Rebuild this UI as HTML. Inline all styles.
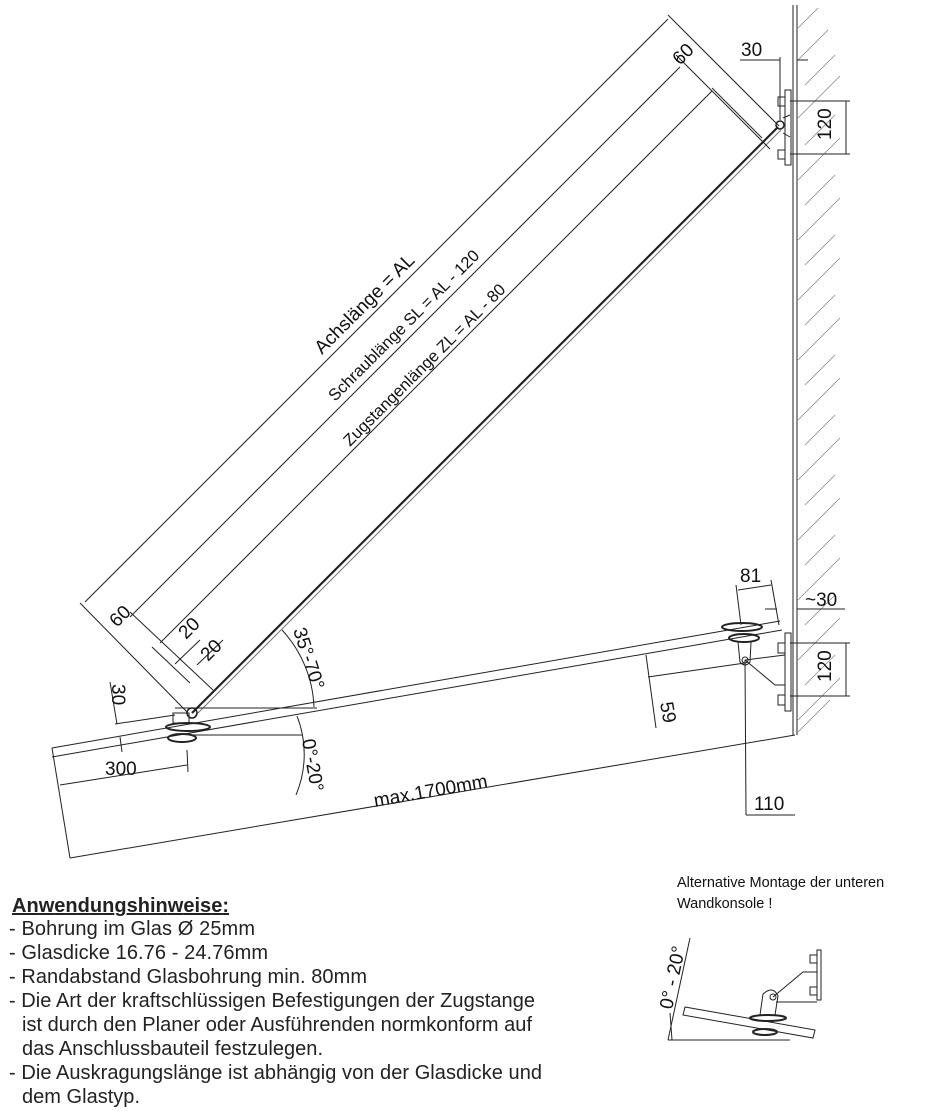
<!DOCTYPE html>
<html><head><meta charset="utf-8"><style>
html,body{margin:0;padding:0;background:#fff;}
svg{display:block;font-family:"Liberation Sans",sans-serif;}
</style></head><body>
<svg width="945" height="1111" viewBox="0 0 945 1111" xmlns="http://www.w3.org/2000/svg">
<g stroke="#222" stroke-width="1" fill="none">
<line x1="793" y1="5" x2="793" y2="735"/>
<line x1="797" y1="5" x2="797" y2="735"/>
<g stroke="#888" stroke-width="0.8">
<line x1="798" y1="28" x2="818" y2="8"/><line x1="798" y1="60" x2="828" y2="30"/><line x1="805" y1="85" x2="835" y2="55"/>
<line x1="798" y1="118" x2="840" y2="76"/><line x1="805" y1="145" x2="835" y2="115"/><line x1="798" y1="180" x2="840" y2="138"/>
<line x1="805" y1="205" x2="835" y2="175"/><line x1="798" y1="240" x2="840" y2="198"/><line x1="805" y1="265" x2="835" y2="235"/>
<line x1="798" y1="300" x2="840" y2="258"/><line x1="805" y1="325" x2="835" y2="295"/><line x1="798" y1="360" x2="840" y2="318"/>
<line x1="805" y1="385" x2="835" y2="355"/><line x1="798" y1="420" x2="840" y2="378"/><line x1="805" y1="445" x2="835" y2="415"/>
<line x1="798" y1="480" x2="840" y2="438"/><line x1="805" y1="505" x2="835" y2="475"/><line x1="798" y1="540" x2="840" y2="498"/>
<line x1="805" y1="565" x2="835" y2="535"/><line x1="798" y1="600" x2="840" y2="558"/><line x1="805" y1="625" x2="835" y2="595"/>
<line x1="798" y1="660" x2="840" y2="618"/><line x1="805" y1="685" x2="835" y2="655"/><line x1="798" y1="720" x2="840" y2="678"/>
<line x1="798" y1="732" x2="830" y2="700"/>
</g>
<line x1="52" y1="748" x2="780" y2="621"/>
<line x1="52" y1="757" x2="782" y2="630"/>
<line x1="52" y1="748" x2="70" y2="858"/>
<line x1="70" y1="858" x2="795" y2="735"/>
<line x1="60" y1="785" x2="187" y2="765"/>
<line x1="187" y1="750" x2="188" y2="772"/>
<line x1="115" y1="724" x2="175" y2="715"/>
<line x1="110" y1="682" x2="117" y2="724"/>
<line x1="120" y1="737" x2="122" y2="752"/>
<line x1="192" y1="713" x2="778" y2="127" stroke-width="2.2"/>
<line x1="195" y1="716" x2="781" y2="130" stroke="#777"/>
<line x1="85" y1="602" x2="668" y2="19"/>
<line x1="130" y1="617" x2="680" y2="67"/>
<line x1="160" y1="643" x2="712" y2="91"/>
<line x1="668" y1="15" x2="779" y2="126"/>
<line x1="676" y1="55" x2="770" y2="149"/>
<line x1="712" y1="88" x2="762" y2="138"/>
<line x1="80" y1="603" x2="187" y2="712"/>
<line x1="130" y1="612" x2="213" y2="690"/>
<line x1="152" y1="647" x2="190" y2="683"/>
<line x1="197" y1="665" x2="223" y2="640"/>
<line x1="175" y1="664" x2="200" y2="640"/>
<line x1="175" y1="708" x2="317" y2="708"/>
<path d="M282,630 A120,120 0 0 1 314,707"/>
<line x1="190" y1="735" x2="302" y2="735"/>
<path d="M297,716 A105,105 0 0 1 296,795"/>
<ellipse cx="188" cy="727" rx="22" ry="4" stroke-width="2"/>
<ellipse cx="182" cy="738" rx="14" ry="4" stroke-width="2"/>
<rect x="173" y="713" width="16" height="10"/>
<circle cx="192" cy="713" r="5" stroke-width="1.5"/>
<rect x="785" y="90" width="6" height="75"/>
<rect x="778" y="97" width="7" height="9"/><rect x="778" y="150" width="7" height="9"/>
<circle cx="780" cy="125" r="4" stroke-width="1.5"/>
<path d="M783,118 L790,115 M783,133 L790,137"/>
<line x1="740" y1="60" x2="780" y2="60"/><line x1="797" y1="60" x2="808" y2="60"/>
<line x1="780" y1="57" x2="780" y2="120"/>
<line x1="790" y1="101" x2="850" y2="101"/><line x1="790" y1="154" x2="850" y2="154"/>
<line x1="846" y1="101" x2="846" y2="154"/>
<rect x="785" y="633" width="6" height="78"/>
<rect x="778" y="643" width="7" height="10"/><rect x="778" y="695" width="7" height="10"/>
<line x1="745" y1="660" x2="785" y2="655"/>
<path d="M745,660 L775,685 L785,685"/>
<ellipse cx="742" cy="627" rx="20" ry="4" stroke-width="2"/>
<ellipse cx="744" cy="638" rx="15" ry="4" stroke-width="2"/>
<path d="M738,642 L740,662 Q745,668 750,662 L751,642"/>
<circle cx="745" cy="660" r="3"/>
<line x1="745" y1="660" x2="746" y2="815"/>
<line x1="746" y1="815" x2="795" y2="815"/>
<line x1="736" y1="585" x2="741" y2="625"/>
<line x1="771" y1="580" x2="779" y2="625"/>
<line x1="738" y1="590" x2="771" y2="585"/>
<line x1="765" y1="609" x2="777" y2="609"/><line x1="797" y1="609" x2="845" y2="609"/>
<line x1="790" y1="643" x2="850" y2="643"/><line x1="790" y1="696" x2="850" y2="696"/>
<line x1="846" y1="643" x2="846" y2="696"/>
<line x1="648" y1="677" x2="745" y2="663"/>
<line x1="646" y1="655" x2="656" y2="728"/>
<line x1="690" y1="938" x2="668" y2="1040"/>
<line x1="668" y1="1040" x2="790" y2="1040"/>
<line x1="670" y1="1013" x2="672" y2="1040"/>
<path d="M685,1007 L815,1030 L813,1038 L683,1015 Z"/>
<ellipse cx="768" cy="1018" rx="18" ry="3" stroke-width="2"/>
<ellipse cx="765" cy="1032" rx="12" ry="3" stroke-width="2"/>
<path d="M760,1015 L763,994 Q773,985 778,996 L775,1015"/>
<circle cx="773" cy="997" r="3"/>
<rect x="817" y="950" width="4" height="50"/>
<rect x="810" y="955" width="7" height="8"/><rect x="810" y="987" width="7" height="8"/>
<path d="M773,997 L803,972 L817,972 M776,1002 L817,1002"/>
</g>
<g fill="#111" font-size="19">
<text transform="translate(322,355) rotate(-45)">Achslänge = AL</text>
<text transform="translate(335,402) rotate(-45)" font-size="16.5">Schraublänge SL = AL - 120</text>
<text transform="translate(350,447) rotate(-45)" font-size="16.5">Zugstangenlänge ZL = AL - 80</text>
<text transform="translate(680,66) rotate(-45)">60</text>
<text transform="translate(117,628) rotate(-45)">60</text>
<text transform="translate(186,640) rotate(-45)">20</text>
<text transform="translate(208,662) rotate(-45)">20</text>
<text transform="translate(112,684) rotate(90)">30</text>
<text x="741" y="56">30</text>
<text transform="translate(831,140) rotate(-90)">120</text>
<text transform="translate(831,682) rotate(-90)">120</text>
<text x="740" y="582">81</text>
<text x="805" y="606">~30</text>
<text transform="translate(660,703) rotate(80)">59</text>
<text x="754" y="810">110</text>
<text x="105" y="775">300</text>
<text transform="translate(375,807) rotate(-10)">max.1700mm</text>
<text transform="translate(293,630) rotate(72)">35°-70°</text>
<text transform="translate(302,740) rotate(80)">0°-20°</text>
<text transform="translate(672,1010) rotate(-78)">0° - 20°</text>
</g>
<g fill="#111" font-size="14.5">
<text x="677" y="887">Alternative Montage der unteren</text>
<text x="677" y="908">Wandkonsole !</text>
</g>
<g fill="#222" font-size="20">
<text x="12" y="912" font-weight="bold" text-decoration="underline" textLength="217">Anwendungshinweise:</text>
<text x="9" y="935" textLength="246">- Bohrung im Glas Ø 25mm</text>
<text x="9" y="959" textLength="259">- Glasdicke 16.76 - 24.76mm</text>
<text x="9" y="983" textLength="358">- Randabstand Glasbohrung min. 80mm</text>
<text x="9" y="1007" textLength="526">- Die Art der kraftschlüssigen Befestigungen der Zugstange</text>
<text x="22" y="1031" textLength="510">ist durch den Planer oder Ausführenden normkonform auf</text>
<text x="22" y="1055" textLength="301">das Anschlussbauteil festzulegen.</text>
<text x="9" y="1079" textLength="533">- Die Auskragungslänge ist abhängig von der Glasdicke und</text>
<text x="22" y="1103" textLength="118">dem Glastyp.</text>
</g>
</svg>
</body></html>
